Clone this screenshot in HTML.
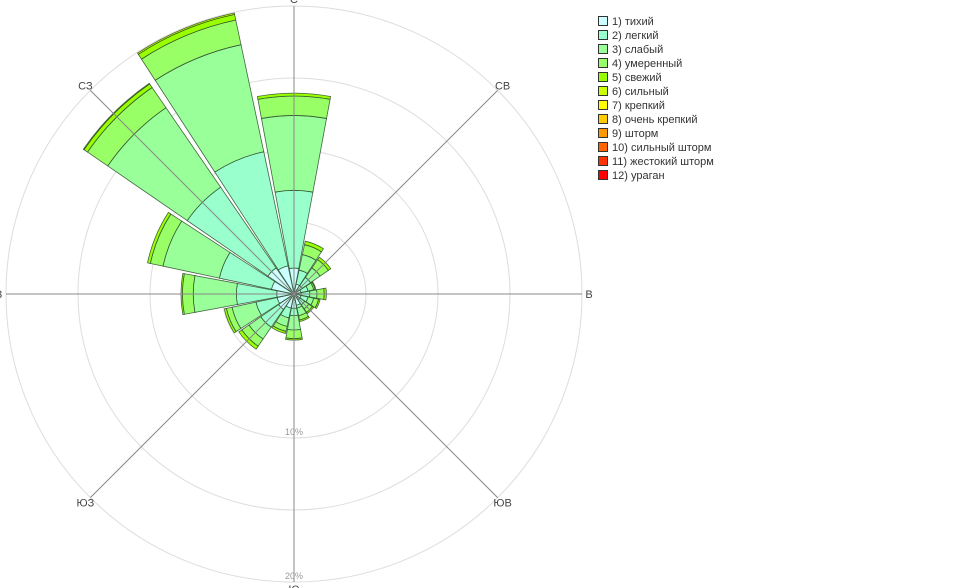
<!DOCTYPE html>
<html><head><meta charset="utf-8"><style>
html,body{margin:0;padding:0;background:#fff;}
svg{display:block;font-family:"Liberation Sans","DejaVu Sans",sans-serif;}
</style></head><body>
<svg id="chart" width="954" height="588" viewBox="0 0 954 588" xmlns="http://www.w3.org/2000/svg">
<g id="grid"></g>
<g id="bars"></g>
<g id="axes"></g>
<g id="legend"></g>
</svg>
<script>
const directions = ["С","ССВ","СВ","ВСВ","В","ВЮВ","ЮВ","ЮЮВ","Ю","ЮЮЗ","ЮЗ","ЗЮЗ","З","ЗСЗ","СЗ","ССЗ"];
const seriesNames = ["1) тихий","2) легкий","3) слабый","4) умеренный","5) свежий","6) сильный","7) крепкий","8) очень крепкий","9) шторм","10) сильный шторм","11) жестокий шторм","12) ураган"];
const seriesColors = ["#ccffff","#99ffcc","#99ff99","#99ff66","#99ff00","#ccff00","#ffff00","#ffcc00","#ff9900","#ff6600","#ff3300","#ff0000"];
const s1 = [1.8,0.7,0.7,0.5,0.5,0.5,0.5,0.8,1.0,1.0,1.3,1.2,1.2,1.6,2.2,2.0];
const s2 = [5.4,1.0,0.7,0.5,0.6,0.5,0.4,0.2,0.5,0.7,1.5,1.5,2.8,3.7,6.8,8.1];
const s3 = [5.2,1.1,0.8,0.4,0.5,0.4,0.35,0.55,1.0,0.6,1.0,1.7,3.0,4.0,6.7,7.6];
const s4 = [1.35,0.7,0.7,0.1,0.5,0.35,0.3,0.3,0.6,0.35,0.6,0.4,0.75,0.9,1.7,1.75];
const s5 = [0.2,0.25,0.2,0.05,0.15,0.1,0.1,0.1,0.1,0.15,0.25,0.15,0.1,0.2,0.3,0.4];
const s6 = [0,0,0,0,0,0,0,0,0,0,0,0,0,0,0.05,0.1];
const series = [s1,s2,s3,s4,s5,s6];
const gridTicks = [5,10,15,20];
const tickLabels = ["","10%","","20%"];
const axisLabels = ["С","СВ","В","ЮВ","Ю","ЮЗ","З","СЗ"];

const NS="http://www.w3.org/2000/svg";
const cx=294, cy=294, maxVal=20, maxR=288;
function rScale(v){return v/maxVal*maxR;}
function pt(r,deg){const a=deg*Math.PI/180;return [cx+r*Math.sin(a), cy-r*Math.cos(a)];}
function mk(tag,attrs,parent){const e=document.createElementNS(NS,tag);for(const k in attrs)e.setAttribute(k,attrs[k]);parent.appendChild(e);return e;}

const grid=document.getElementById('grid');
gridTicks.forEach((t,i)=>{
  const c=mk('circle',{cx:cx,cy:cy,r:rScale(t),fill:'none',stroke:'#dddddd','stroke-width':1},grid);
  
  
  if(tickLabels[i]){
    const tx=mk('text',{x:cx,y:cy+rScale(t)-3,'font-size':9,fill:'#999','text-anchor':'middle'},grid);
    tx.textContent=tickLabels[i];
    
    
  }
});

const bars=document.getElementById('bars');
const step=360/directions.length, halfW=10.5;
directions.forEach((d,i)=>{
  const ang=i*step; let cum=0;
  series.forEach((s,k)=>{
    const v=s[i]; if(v<=0)return;
    const r0=rScale(cum), r1=rScale(cum+v); cum+=v;
    const a0=ang-halfW, a1=ang+halfW;
    const p1=pt(r0,a0),p2=pt(r1,a0),p3=pt(r1,a1),p4=pt(r0,a1);
    const dd=`M${p1[0]},${p1[1]} L${p2[0]},${p2[1]} A${r1},${r1} 0 0 1 ${p3[0]},${p3[1]} L${p4[0]},${p4[1]} A${r0},${r0} 0 0 0 ${p1[0]},${p1[1]} Z`;
    const p=mk('path',{d:dd,fill:seriesColors[k],stroke:'#2a4a2a','stroke-width':0.8,'stroke-opacity':0.85},bars);
    
    
  });
});

const axes=document.getElementById('axes');
axisLabels.forEach((lab,i)=>{
  const ang=i*45; const e=pt(maxR,ang);
  const l=mk('line',{x1:cx,y1:cy,x2:e[0],y2:e[1],stroke:'#888','stroke-width':1},axes);
  
  
  const lp=pt(maxR+7,ang);
  const t=mk('text',{x:lp[0],y:lp[1]+4,'font-size':11,fill:'#444','text-anchor':'middle'},axes);
  t.textContent=lab;
  
  
});

const leg=document.getElementById('legend');
seriesNames.forEach((n,i)=>{
  const y=16+i*14;
  const r=mk('rect',{x:598.5,y:y+0.5,width:9,height:9,fill:seriesColors[i],stroke:'#333','stroke-width':1},leg);
  
  
  const t=mk('text',{x:612,y:y+9,'font-size':11,fill:'#333'},leg);
  t.textContent=n;
  
  
});
</script>
</body></html>
